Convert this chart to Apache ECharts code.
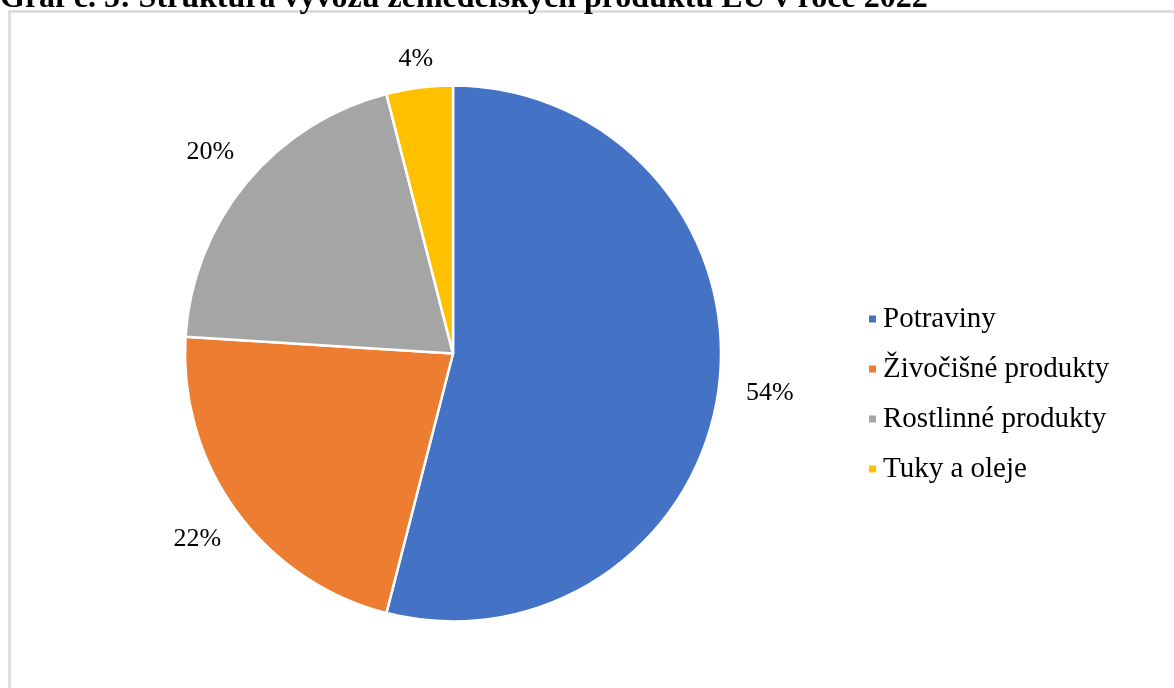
<!DOCTYPE html>
<html>
<head>
<meta charset="utf-8">
<script src="https://cdn.jsdelivr.net/npm/echarts@6/dist/echarts.min.js"></script>
<style>
  html, body { margin: 0; padding: 0; background: #fff; }
  #chart { width: 1174px; height: 688px; }
</style>
</head>
<body>
<div id="chart"></div>
<script>
// Data for the pie
const categories = ["Potraviny", "Živočišné produkty", "Rostlinné produkty", "Tuky a oleje"];
const shares = [54, 22, 20, 4];
const colors = ["#4472C4", "#ED7D31", "#A5A5A5", "#FFC000"];
const titleText = "Graf č. 5: Struktura vývozu zemědělských produktů EU v roce 2022";

const serif = "'Liberation Serif', 'Times New Roman', serif";

const pieCenter = [453, 353.5];
const pieRadius = 268;

const pieData = categories.map((name, i) => ({
  name: name,
  value: shares[i],
  itemStyle: { color: colors[i] },
}));

// Excel style "outside end" labels: centred on the slice bisector, a little past the edge
const total = shares.reduce((a, b) => a + b, 0);
const labelLayout = (params) => {
  const i = params.dataIndex;
  const before = shares.slice(0, i).reduce((a, b) => a + b, 0);
  const mid = ((before + shares[i] / 2) / total) * Math.PI * 2; // clockwise from top
  const ux = Math.sin(mid);
  const uy = -Math.cos(mid);
  const hw = params.labelRect.width / 2;
  const hh = params.labelRect.height / 2;
  const dist = pieRadius + 20 + Math.abs(ux) * (hw + 7) + Math.abs(uy) * hh * 0.4;
  return {
    x: pieCenter[0] + ux * dist,
    y: pieCenter[1] + uy * dist,
    align: "center",
    verticalAlign: "middle",
  };
};

const option = {
  animation: false,
  backgroundColor: "#fff",
  graphic: [
    // chart frame (runs past the right and bottom edges)
    {
      type: "rect",
      shape: { x: 9.5, y: 11.5, width: 1300, height: 900 },
      style: { fill: "none", stroke: "#d9d9d9", lineWidth: 2.5 },
      z: 0,
    },
    // title, clipped by the top edge
    {
      type: "text",
      x: 0,
      y: 15,
      z: 5,
      style: {
        text: titleText,
        font: "bold 32px " + serif,
        fill: "#000",
        textVerticalAlign: "bottom",
      },
    },
  ],
  legend: {
    orient: "vertical",
    left: 862,
    top: 299,
    itemWidth: 9,
    itemHeight: 9,
    itemGap: 20,
    icon: "rect",
    data: categories,
    textStyle: {
      fontFamily: serif,
      fontSize: 29,
      lineHeight: 30,
      color: "#000",
      padding: [0, 0, 0, 1],
    },
  },
  series: [
    {
      type: "pie",
      center: pieCenter,
      radius: ["0%", pieRadius],
      startAngle: 90,
      clockwise: true,
      avoidLabelOverlap: false,
      data: pieData,
      itemStyle: { borderColor: "#fff", borderWidth: 2.5 },
      label: {
        show: true,
        position: "outside",
        formatter: (p) => p.value + "%",
        fontFamily: serif,
        fontSize: 26,
        color: "#000",
      },
      labelLine: { show: false, length: 22, length2: 0 },
      labelLayout: labelLayout,
      emphasis: { disabled: true },
    },
  ],
};

const myChart = echarts.init(document.getElementById("chart"));
myChart.setOption(option);
</script>
</body>
</html>
